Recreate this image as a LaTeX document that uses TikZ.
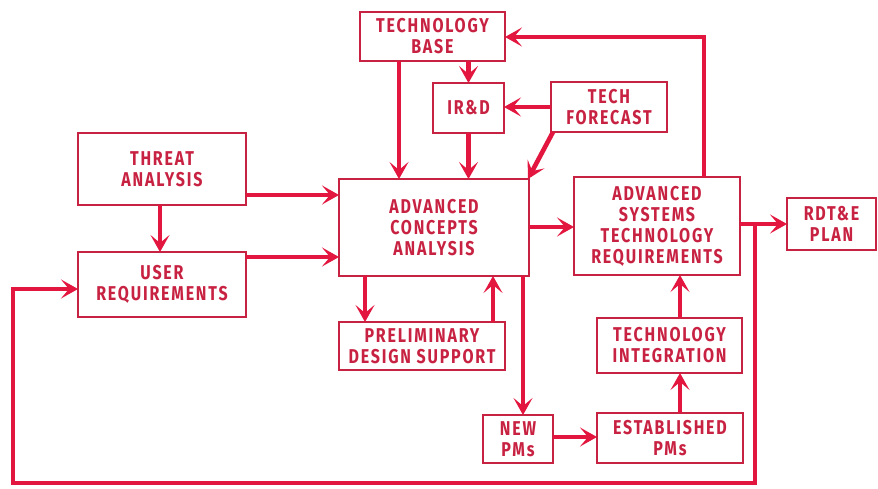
\documentclass[tikz,border=0pt]{standalone}
\usepackage{fontspec}
\setmainfont{Fira Sans}[FakeStretch=0.8,LetterSpace=9]
\usetikzlibrary{arrows.meta}
\definecolor{flowred}{RGB}{226,22,62}
\definecolor{boxred}{RGB}{200,34,66}
\tikzset{
  blk/.style={draw=boxred, line width=1.8pt, inner sep=0pt, outer sep=0pt,
    align=center, text=boxred,
    font=\fontsize{20}{21}\selectfont\bfseries},
  arr/.style={draw=flowred, line width=4.6pt,
    -{Stealth[length=17pt,width=19pt,inset=8pt]}},
  wire/.style={draw=flowred, line width=4.6pt}
}
\newcommand{\blkbox}[7]{%
  % name, x1, y1, x2, y2, text
  \node[blk, minimum width={#4-#2}, minimum height={#5-#3}]
    (#1) at ({(#2+#4)/2},{(#3+#5)/2}) {#6};}
\begin{document}
\begin{tikzpicture}[x=1pt,y=-1pt]
  \useasboundingbox (0,0) rectangle (878,489);

  % boxes
  \blkbox{tb}{360}{12}{505}{61}{TECHNOLOGY\\BASE}{}
  \blkbox{ird}{433}{83}{504}{133}{IR\&D}{}
  \blkbox{tf}{551}{82}{667}{132}{TECH\\FORECAST}{}
  \blkbox{ta}{78}{133}{246}{205}{THREAT\\ANALYSIS}{}
  \blkbox{ur}{78}{252}{246}{317}{USER\\REQUIREMENTS}{}
  \blkbox{aca}{339}{179}{529}{276}{ADVANCED\\CONCEPTS\\ANALYSIS}{}
  \blkbox{pds}{339}{322}{505}{370}{PRELIMINARY\\DESIGN SUPPORT}{}
  \blkbox{astr}{574}{177}{740}{275}{ADVANCED\\SYSTEMS\\TECHNOLOGY\\REQUIREMENTS}{}
  \blkbox{rdte}{787}{198}{876}{250}{RDT\&E\\PLAN}{}
  \blkbox{ti}{597}{318}{742}{373}{TECHNOLOGY\\INTEGRATION}{}
  \blkbox{ep}{597}{413}{743}{463}{ESTABLISHED\\PMs}{}
  \blkbox{np}{483}{415}{553}{463}{NEW\\PMs}{}

  % flows into the concepts analysis
  \draw[arr] (tb.south -| 399,0) -- (aca.north -| 399,0);
  \draw[arr] (tb.south -| ird.north) -- (ird.north);
  \draw[arr] (ird.south) -- (aca.north -| ird.south);
  \draw[arr] (tf.west) -- (ird.east |- tf.west);
  \draw[arr] ([xshift=2pt]tf.south west) -- ([xshift=-1pt]aca.north east);
  \draw[arr] (ta.east |- 0,195) -- (aca.west |- 0,195);
  \draw[arr] (ta.south -| 160,0) -- (ur.north -| 160,0);
  \draw[arr] (ur.east |- 0,257) -- (aca.west |- 0,257);
  \draw[arr] (aca.south -| 365,0) -- (pds.north -| 365,0);
  \draw[arr] (pds.north -| 493,0) -- (aca.south -| 493,0);

  % flows to program managers and requirements
  \draw[arr] (aca.south -| 523,0) -- (np.north -| 523,0);
  \draw[arr] (aca.east |- 0,227) -- (astr.west |- 0,227);
  \draw[arr] (np.east |- 0,437) -- (ep.west |- 0,437);
  \draw[arr] (ep.north -| 680,0) -- (ti.south -| 680,0);
  \draw[arr] (ti.north -| 680,0) -- (astr.south -| 680,0);
  \draw[arr] (astr.east |- 0,224) -- (rdte.west |- 0,224);

  % feedback paths
  \draw[arr] (astr.north -| 704,0) |- (tb.east |- 0,37);
  \coordinate (fb) at (755,224);
  \draw[wire] (fb) -- (755,483) -- (13,483) -- (13,289);
  \draw[arr] (11,289) -- (ur.west |- 0,289);
\end{tikzpicture}
\end{document}
